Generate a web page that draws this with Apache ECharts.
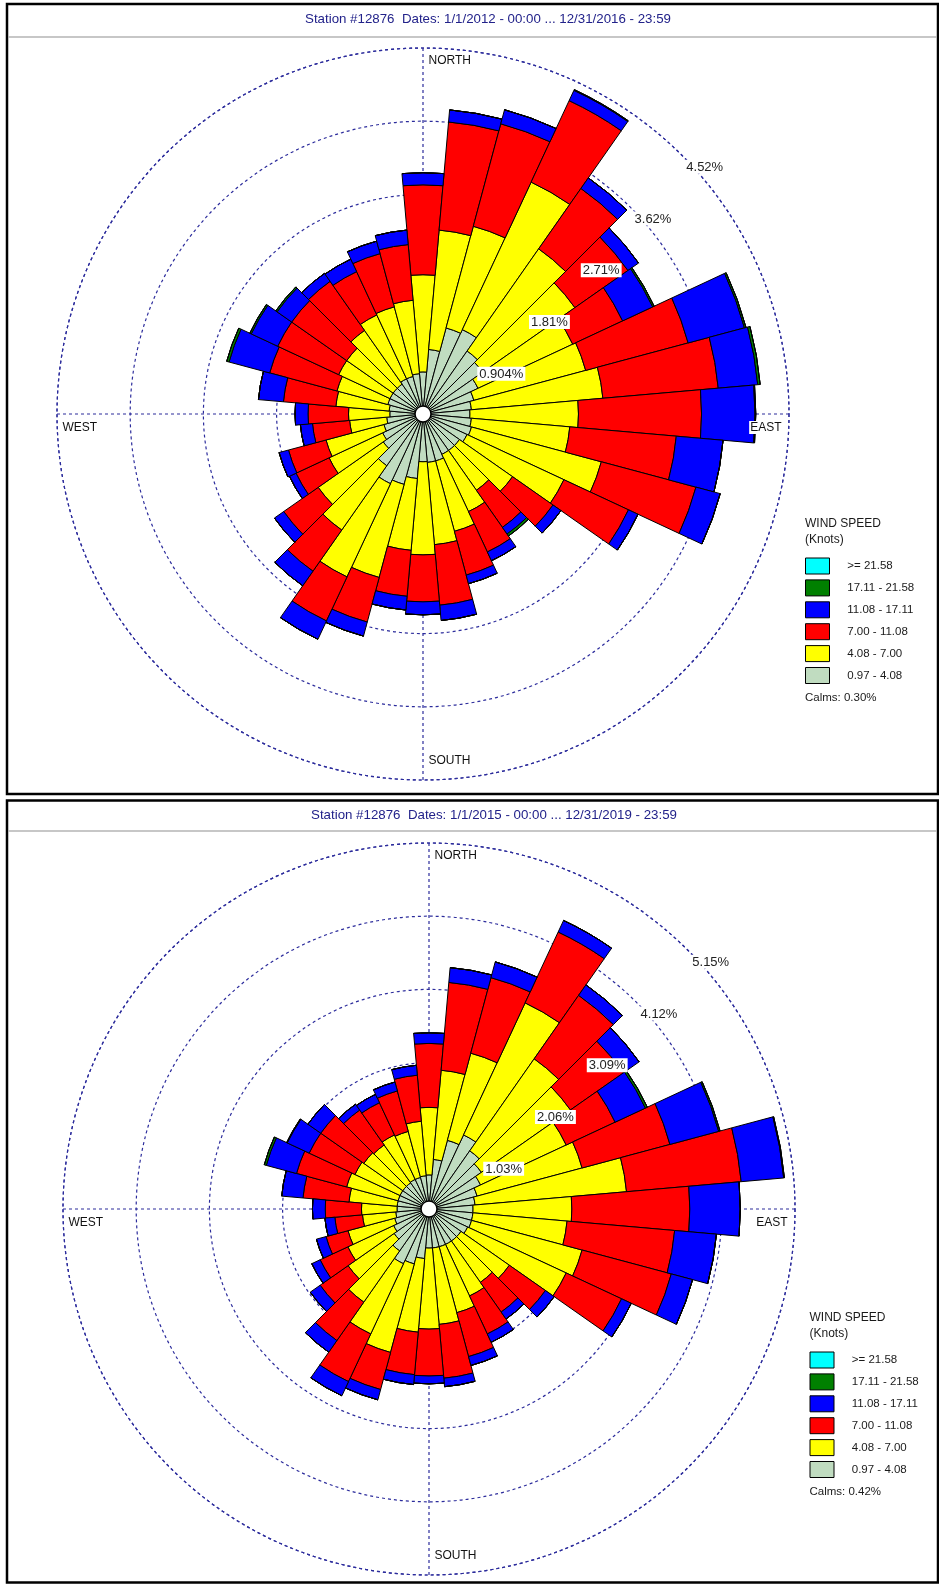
<!DOCTYPE html>
<html><head><meta charset="utf-8">
<script src="https://cdn.jsdelivr.net/npm/echarts@6/dist/echarts.min.js"></script>
<style>html,body{margin:0;padding:0;background:#fff}#c{width:939px;height:1585px}</style>
</head><body><div id="c"></div>
<script>
// ---------------- DATA ----------------
const directions = ['0','10','20','30','40','50','60','70','80','90','100','110','120','130','140','150','160','170',
  '180','190','200','210','220','230','240','250','260','270','280','290','300','310','320','330','340','350'];
const speedClasses = ['0.97 - 4.08','4.08 - 7.00','7.00 - 11.08','11.08 - 17.11','17.11 - 21.58','>= 21.58'];

const titleTop = 'Station #12876  Dates: 1/1/2012 - 00:00 ... 12/31/2016 - 23:59';
const titleBottom = 'Station #12876  Dates: 1/1/2015 - 00:00 ... 12/31/2019 - 23:59';

// Chart 1 (2012-2016): frequency (%) per direction for each speed class
const top_097_408 = [0.52,0.80,1.10,1.15,0.95,0.90,0.75,0.65,0.60,0.58,0.60,0.62,0.60,0.55,0.55,0.55,0.60,0.60,0.59,0.80,0.90,0.95,0.78,0.60,0.55,0.50,0.45,0.41,0.42,0.45,0.45,0.45,0.45,0.48,0.48,0.50];
const top_408_700 = [1.20,1.48,1.30,2.01,1.54,1.39,1.29,1.43,1.63,1.34,1.22,1.66,1.32,0.80,0.60,0.78,0.90,1.02,1.15,0.89,1.19,1.27,0.97,0.98,0.73,0.74,0.46,0.51,0.66,0.65,0.70,0.70,0.81,0.87,0.89,0.91];
const top_700_1108 = [1.11,1.34,1.31,1.11,0.91,0.80,0.68,1.31,1.43,1.52,1.32,1.21,0.88,0.61,0.56,0.55,0.56,0.75,0.58,0.57,0.57,0.60,0.62,0.52,0.45,0.48,0.46,0.50,0.65,0.86,0.83,0.83,0.74,0.59,0.68,0.69];
const top_1108_1711 = [0.15,0.15,0.18,0.14,0.16,0.16,0.41,0.72,0.49,0.66,0.58,0.31,0.13,0.12,0.10,0.12,0.11,0.19,0.16,0.17,0.18,0.25,0.22,0.14,0.09,0.12,0.15,0.16,0.31,0.52,0.36,0.22,0.12,0.17,0.16,0.18];
const top_1711_2158 = [0,0,0,0.01,0,0,0.02,0.02,0.03,0.01,0,0,0,0,0.03,0,0,0,0,0,0,0,0,0,0,0,0,0,0,0.03,0.02,0.02,0,0,0,0];
const top_2158 = [0,0,0,0,0,0,0,0,0,0,0,0,0,0,0,0,0,0,0,0,0,0,0,0,0,0,0,0,0,0,0,0,0,0,0,0];
const topCalms = 0.30;
const topRingValues = [0.904, 1.808, 2.712, 3.616, 4.52];
const topRingLabels = ['0.904%', '1.81%', '2.71%', '3.62%', '4.52%'];

// Chart 2 (2015-2019)
const bot_097_408 = [0.48,0.70,1.00,1.15,1.00,0.90,0.80,0.70,0.65,0.62,0.62,0.62,0.60,0.55,0.55,0.55,0.55,0.55,0.55,0.70,0.80,0.85,0.72,0.60,0.55,0.50,0.47,0.45,0.45,0.45,0.45,0.45,0.45,0.46,0.46,0.47];
const bot_408_700 = [0.95,1.26,1.27,2.05,1.58,1.53,1.33,1.53,2.14,1.39,1.33,1.61,1.53,0.83,0.71,0.80,0.96,1.08,1.14,1.04,1.29,1.09,0.88,0.79,0.71,0.68,0.47,0.50,0.68,0.75,0.70,0.67,0.65,0.69,0.67,0.77];
const bot_700_1108 = [0.90,1.24,1.10,1.10,1.09,0.91,0.76,1.28,1.62,1.66,1.52,1.30,0.86,0.62,0.51,0.59,0.64,0.76,0.66,0.60,0.54,0.74,0.66,0.48,0.43,0.32,0.39,0.51,0.65,0.73,0.71,0.74,0.60,0.50,0.59,0.65];
const bot_1108_1711 = [0.15,0.21,0.23,0.18,0.18,0.27,0.47,0.71,0.60,0.71,0.59,0.31,0.15,0.15,0.12,0.13,0.13,0.12,0.11,0.14,0.15,0.22,0.20,0.17,0.13,0.14,0.14,0.18,0.30,0.44,0.34,0.22,0.10,0.13,0.13,0.14];
const bot_1711_2158 = [0,0,0,0,0,0,0.03,0.02,0.01,0,0,0,0,0,0,0,0,0,0,0,0,0,0,0,0,0,0,0,0,0.03,0.01,0,0,0,0,0];
const bot_2158 = [0,0,0,0,0,0,0,0,0,0,0,0,0,0,0,0,0,0,0,0,0,0,0,0,0,0,0,0,0,0,0,0,0,0,0,0];
const botCalms = 0.42;
const botRingValues = [1.03, 2.06, 3.09, 4.12, 5.15];
const botRingLabels = ['1.03%', '2.06%', '3.09%', '4.12%', '5.15%'];

const compassLabels = ['NORTH', 'EAST', 'SOUTH', 'WEST'];
const compassAngles = [0, 90, 180, 270];

// ---------------- STYLE / LAYOUT ----------------
const speedColors = ['#c0dcc0', '#ffff00', '#ff0000', '#0000ff', '#008000', '#00ffff'];
const FONT = '"Liberation Sans", Arial, sans-serif';
const NAVY = '#2c2c9c';
const RADIUS = 366;

const panels = [
  { center: [423, 414], max: 4.52, interval: 0.904, ringValues: topRingValues, ringLabels: topRingLabels,
    series: [top_097_408, top_408_700, top_700_1108, top_1108_1711, top_1711_2158, top_2158],
    calms: topCalms, title: titleTop, titleX: 488, titleY: 13,
    legendX: 805, legendY: 557.5, headerY: 516, calmsY: 691.5,
    frame: { x: 7, y: 4, w: 931, h: 790 }, sepY: 37 },
  { center: [429, 1209], max: 5.15, interval: 1.03, ringValues: botRingValues, ringLabels: botRingLabels,
    series: [bot_097_408, bot_408_700, bot_700_1108, bot_1108_1711, bot_1711_2158, bot_2158],
    calms: botCalms, title: titleBottom, titleX: 494, titleY: 809,
    legendX: 809.5, legendY: 1351.5, headerY: 1310, calmsY: 1486,
    frame: { x: 7, y: 800.5, w: 931, h: 782 }, sepY: 831 }
];

const dashed = { color: NAVY, width: 1.2, type: [3, 3] };

const option = {
  animation: false,
  backgroundColor: '#fff',
  title: [], polar: [], angleAxis: [], radiusAxis: [], legend: [], series: [], graphic: []
};

panels.forEach((p, k) => {
  const barPolar = k * 2, gridPolar = k * 2 + 1;
  option.polar.push({ center: p.center, radius: RADIUS });
  option.polar.push({ center: p.center, radius: RADIUS });

  option.angleAxis.push({ polarIndex: barPolar, type: 'category', data: directions, startAngle: 95,
    clockwise: true, show: false });
  option.radiusAxis.push({ polarIndex: barPolar, type: 'value', min: 0, max: p.max, show: false });

  option.angleAxis.push({ polarIndex: gridPolar, type: 'value', min: 0, max: 360, interval: 90, startAngle: 90,
    clockwise: true, axisLine: { show: true, lineStyle: dashed }, axisTick: { show: false },
    axisLabel: { show: false }, splitLine: { show: true, lineStyle: dashed } });
  option.radiusAxis.push({ polarIndex: gridPolar, type: 'value', min: 0, max: p.max, interval: p.interval,
    axisLine: { show: false }, axisTick: { show: false }, axisLabel: { show: false },
    splitLine: { show: true, lineStyle: dashed } });

  p.series.forEach((vals, i) => {
    option.series.push({
      type: 'bar', name: speedClasses[i], coordinateSystem: 'polar', polarIndex: barPolar,
      stack: 'rose' + k, data: vals, barCategoryGap: '0%', z: 2,
      itemStyle: { color: speedColors[i], borderColor: '#000', borderWidth: 1 },
      emphasis: { disabled: true }, silent: true
    });
  });

  // calm circle
  option.series.push({
    type: 'pie', center: p.center, radius: [0, 8], data: [{ value: p.calms, name: 'Calms' }],
    label: { show: false }, labelLine: { show: false }, silent: true, z: 20,
    itemStyle: { color: '#fff', borderColor: '#000', borderWidth: 1.5 }, emphasis: { disabled: true }
  });

  // ring labels
  option.series.push({
    type: 'scatter', coordinateSystem: 'polar', polarIndex: gridPolar, z: 30, silent: true,
    data: p.ringValues.map(v => [v, 45]), symbolSize: 1, itemStyle: { color: 'rgba(0,0,0,0)', opacity: 1 },
    label: { show: true, formatter: q => p.ringLabels[q.dataIndex], position: [3, 5], align: 'left',
      verticalAlign: 'top', backgroundColor: '#fff', padding: [1, 2, 0, 2], fontSize: 13,
      fontFamily: FONT, color: '#222', opacity: 1 }
  });

  // compass labels
  const offs = [
    { position: [5, 13], align: 'left' },
    { position: [-6, 14], align: 'right' },
    { position: [5, -19], align: 'left' },
    { position: [5, 14], align: 'left' }
  ];
  option.series.push({
    type: 'scatter', coordinateSystem: 'polar', polarIndex: gridPolar, z: 30, silent: true,
    symbolSize: 1, itemStyle: { color: 'rgba(0,0,0,0)', opacity: 1 },
    data: compassAngles.map((a, i) => ({ value: [p.max, a],
      label: { show: true, formatter: compassLabels[i], position: offs[i].position, align: offs[i].align,
        verticalAlign: 'middle', backgroundColor: '#fff', padding: [1, 1, 0, 1], fontSize: 12,
        fontFamily: FONT, color: '#111', opacity: 1 } }))
  });

  option.title.push({ text: p.title, left: p.titleX, top: p.titleY, textAlign: 'center', padding: 0,
    textStyle: { fontSize: 13.3, fontWeight: 'normal', color: '#22228a', fontFamily: FONT } });
  option.title.push({ text: 'WIND SPEED\n(Knots)', left: p.legendX, top: p.headerY, padding: 0,
    textStyle: { fontSize: 12, lineHeight: 16, fontWeight: 'normal', color: '#1a1a1a', fontFamily: FONT } });
  option.title.push({ text: 'Calms: ' + p.calms.toFixed(2) + '%', left: p.legendX, top: p.calmsY, padding: 0,
    textStyle: { fontSize: 11.5, fontWeight: 'normal', color: '#1a1a1a', fontFamily: FONT } });

  option.legend.push({
    orient: 'vertical', left: p.legendX, top: p.legendY, padding: 0, itemWidth: 24, itemHeight: 16, itemGap: 4.9,
    selectedMode: false, icon: 'rect', data: speedClasses.slice().reverse(),
    formatter: n => '    ' + n,
    itemStyle: { borderColor: '#000', borderWidth: 1 },
    textStyle: { fontSize: 11.5, color: '#1a1a1a', fontFamily: FONT }
  });

  option.graphic.push({ type: 'rect', shape: { x: p.frame.x, y: p.frame.y, width: p.frame.w, height: p.frame.h },
    style: { fill: 'none', stroke: '#000', lineWidth: 2.5 }, z: 100 });
  option.graphic.push({ type: 'line', shape: { x1: p.frame.x + 1, y1: p.sepY, x2: p.frame.x + p.frame.w - 1, y2: p.sepY },
    style: { stroke: '#b4b4b4', lineWidth: 1.5 }, z: 100 });
});

const chart = echarts.init(document.getElementById('c'));
chart.setOption(option);
</script>
</body></html>
